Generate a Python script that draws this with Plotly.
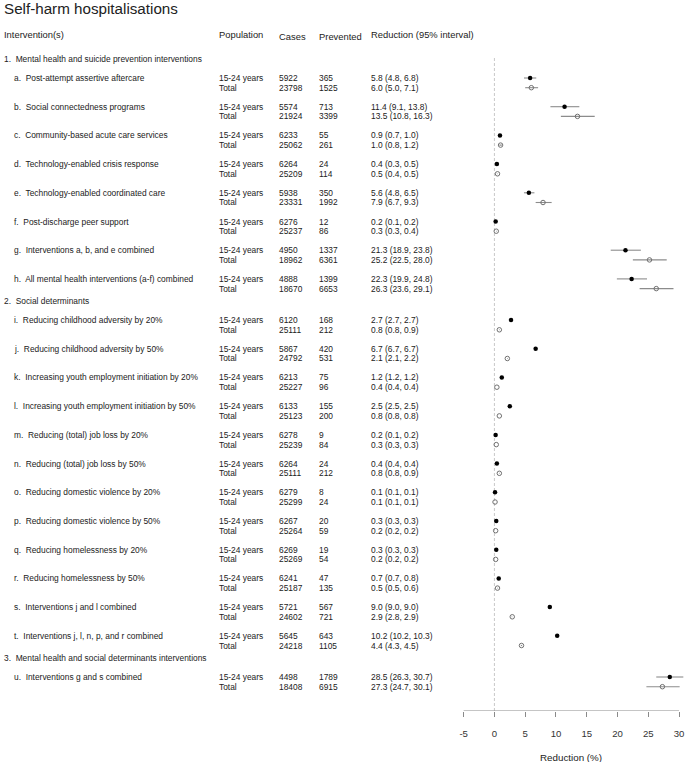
import plotly.graph_objects as go

# ---------------- data ----------------
section_titles = [
    "1.  Mental health and suicide prevention interventions",
    "2.  Social determinants",
    "3.  Mental health and social determinants interventions",
]
section_sizes = [8, 12, 1]

letters = list("abcdefghijklmnopqrstu")
names = [
    "Post-attempt assertive aftercare",
    "Social connectedness programs",
    "Community-based acute care services",
    "Technology-enabled crisis response",
    "Technology-enabled coordinated care",
    "Post-discharge peer support",
    "Interventions a, b, and e combined",
    "All mental health interventions (a-f) combined",
    "Reducing childhood adversity by 20%",
    "Reducing childhood adversity by 50%",
    "Increasing youth employment initiation by 20%",
    "Increasing youth employment initiation by 50%",
    "Reducing (total) job loss by 20%",
    "Reducing (total) job loss by 50%",
    "Reducing domestic violence by 20%",
    "Reducing domestic violence by 50%",
    "Reducing homelessness by 20%",
    "Reducing homelessness by 50%",
    "Interventions j and l combined",
    "Interventions j, l, n, p, and r combined",
    "Interventions g and s combined",
]

youth_cases = [5922, 5574, 6233, 6264, 5938, 6276, 4950, 4888,
               6120, 5867, 6213, 6133, 6278, 6264, 6279, 6267, 6269, 6241, 5721, 5645,
               4498]
youth_prev = [365, 713, 55, 24, 350, 12, 1337, 1399,
              168, 420, 75, 155, 9, 24, 8, 20, 19, 47, 567, 643,
              1789]
youth_est = [5.8, 11.4, 0.9, 0.4, 5.6, 0.2, 21.3, 22.3,
             2.7, 6.7, 1.2, 2.5, 0.2, 0.4, 0.1, 0.3, 0.3, 0.7, 9.0, 10.2,
             28.5]
youth_lo = [4.8, 9.1, 0.7, 0.3, 4.8, 0.1, 18.9, 19.9,
            2.7, 6.7, 1.2, 2.5, 0.1, 0.4, 0.1, 0.3, 0.3, 0.7, 9.0, 10.2,
            26.3]
youth_hi = [6.8, 13.8, 1.0, 0.5, 6.5, 0.2, 23.8, 24.8,
            2.7, 6.7, 1.2, 2.5, 0.2, 0.4, 0.1, 0.3, 0.3, 0.8, 9.0, 10.3,
            30.7]

total_cases = [23798, 21924, 25062, 25209, 23331, 25237, 18962, 18670,
               25111, 24792, 25227, 25123, 25239, 25111, 25299, 25264, 25269, 25187, 24602, 24218,
               18408]
total_prev = [1525, 3399, 261, 114, 1992, 86, 6361, 6653,
              212, 531, 96, 200, 84, 212, 24, 59, 54, 135, 721, 1105,
              6915]
total_est = [6.0, 13.5, 1.0, 0.5, 7.9, 0.3, 25.2, 26.3,
             0.8, 2.1, 0.4, 0.8, 0.3, 0.8, 0.1, 0.2, 0.2, 0.5, 2.9, 4.4,
             27.3]
total_lo = [5.0, 10.8, 0.8, 0.4, 6.7, 0.3, 22.5, 23.6,
            0.8, 2.1, 0.4, 0.8, 0.3, 0.8, 0.1, 0.2, 0.2, 0.5, 2.8, 4.3,
            24.7]
total_hi = [7.1, 16.3, 1.2, 0.5, 9.3, 0.4, 28.0, 29.1,
            0.9, 2.2, 0.4, 0.8, 0.3, 0.9, 0.1, 0.2, 0.2, 0.6, 2.9, 4.5,
            30.1]

pop_labels = ["15-24 years", "Total"]
headers = ["Intervention(s)", "Population", "Cases", "Prevented", "Reduction (95% interval)"]
x_ticks = [-5, 0, 5, 10, 15, 20, 25, 30]
x_title = "Reduction (%)"
chart_title = "Self-harm hospitalisations"

# ---------------- layout geometry (pixels) ----------------
W, H = 685, 762
AXIS_Y = 711
FIRST_ROW = 78
GROUP_STEP = 28.7
ROW_STEP = 9.7
SECTION_GAP = 41.2
HEADER_OFFSET = 19

COL_NAME_SEC = 2
COL_NAME = 12
COL_POP = 218
COL_CASES = 278
COL_PREV = 318
COL_RED = 370

TXT = "#222222"
FONT = "Liberation Sans, Arial, sans-serif"
FS = 8.4

# compute row positions
group_y = []
section_y = []
y = FIRST_ROW
for s, n in enumerate(section_sizes):
    section_y.append(y - HEADER_OFFSET)
    for k in range(n):
        group_y.append(y + k * GROUP_STEP)
    y = group_y[-1] + SECTION_GAP

youth_y = group_y
total_y = [g + ROW_STEP for g in group_y]

fig = go.Figure()

# reference zero line
fig.add_shape(type="line", xref="x", yref="y", x0=0, x1=0, y0=58, y1=AXIS_Y,
              line=dict(color="#c8c8c8", width=1, dash="3px,2px"), layer="below")
# axis line from -5 to 30
fig.add_shape(type="line", xref="x", yref="y", x0=x_ticks[0], x1=x_ticks[-1],
              y0=AXIS_Y, y1=AXIS_Y, line=dict(color="#8a8a8a", width=1))

fig.add_trace(go.Scatter(
    x=total_est, y=total_y, mode="markers",
    marker=dict(symbol="circle-open", size=4.5, color="#707070", line=dict(width=1, color="#707070")),
    error_x=dict(type="data", symmetric=False,
                 array=[h - e for h, e in zip(total_hi, total_est)],
                 arrayminus=[e - l for e, l in zip(total_est, total_lo)],
                 color="#8c8c8c", thickness=1.1, width=0),
    cliponaxis=False, showlegend=False, hoverinfo="skip"))

fig.add_trace(go.Scatter(
    x=youth_est, y=youth_y, mode="markers",
    marker=dict(symbol="circle", size=4.5, color="#000000"),
    error_x=dict(type="data", symmetric=False,
                 array=[h - e for h, e in zip(youth_hi, youth_est)],
                 arrayminus=[e - l for e, l in zip(youth_est, youth_lo)],
                 color="#8c8c8c", thickness=1.1, width=0),
    cliponaxis=False, showlegend=False, hoverinfo="skip"))

ann = []

def text(xpx, ypx, s, size=FS, color=TXT):
    ann.append(dict(x=(xpx - 2) / W, xref="paper", y=1 - ypx / H, yref="paper", text=s,
                    showarrow=False, xanchor="left", yanchor="middle",
                    font=dict(family=FONT, size=size, color=color)))

# title
text(COL_NAME_SEC, 9, chart_title, size=15.2)
# headers
hdr_x = [COL_NAME_SEC, COL_POP, COL_CASES, COL_PREV, COL_RED]
hdr_dy = [0, 0, 1.5, 1.5, 0]
for hx, h, dy in zip(hdr_x, headers, hdr_dy):
    text(hx, 35 + dy, h, size=9.4)

for sy, st in zip(section_y, section_titles):
    text(COL_NAME_SEC, sy, st)

for i in range(len(names)):
    text(COL_NAME, youth_y[i], f"{letters[i]}.  {names[i]}")
    text(COL_POP, youth_y[i], pop_labels[0])
    text(COL_POP, total_y[i], pop_labels[1])
    text(COL_CASES, youth_y[i], str(youth_cases[i]))
    text(COL_CASES, total_y[i], str(total_cases[i]))
    text(COL_PREV, youth_y[i], str(youth_prev[i]))
    text(COL_PREV, total_y[i], str(total_prev[i]))
    text(COL_RED, youth_y[i], f"{youth_est[i]:.1f} ({youth_lo[i]:.1f}, {youth_hi[i]:.1f})")
    text(COL_RED, total_y[i], f"{total_est[i]:.1f} ({total_lo[i]:.1f}, {total_hi[i]:.1f})")

# axis title
ann.append(dict(x=(x_ticks[0] + x_ticks[-1]) / 2, xref="x", y=1 - 757 / H, yref="paper",
                text=x_title, showarrow=False,
                xanchor="center", yanchor="middle", font=dict(family=FONT, size=9.8, color=TXT)))

PX_PER_UNIT = 6.171
X0_PX = 463  # pixel of -5
left_val = -5 - (X0_PX - 461) / PX_PER_UNIT
right_val = 30 + (W - 679) / PX_PER_UNIT

fig.update_layout(
    width=W, height=H,
    margin=dict(l=0, r=0, t=0, b=0),
    paper_bgcolor="white", plot_bgcolor="white",
    font=dict(family=FONT, color=TXT),
    annotations=ann,
    xaxis=dict(domain=[461 / W, 1.0], range=[left_val, right_val],
               tickvals=x_ticks, ticktext=[str(t) for t in x_ticks],
               ticks="outside", ticklen=5, tickcolor="#8a8a8a", tickwidth=1,
               showline=False, showgrid=False, zeroline=False,
               tickfont=dict(family=FONT, size=9.6, color="#333333"),
               ticklabelstandoff=8, fixedrange=True),
    yaxis=dict(domain=[(H - AXIS_Y) / H, 1.0], range=[AXIS_Y, 0],
               visible=False, showgrid=False, zeroline=False, fixedrange=True),
)

fig.write_html("out.html", config={"displayModeBar": False},
               post_script="document.body.style.margin='0';document.body.style.overflow='hidden';")
